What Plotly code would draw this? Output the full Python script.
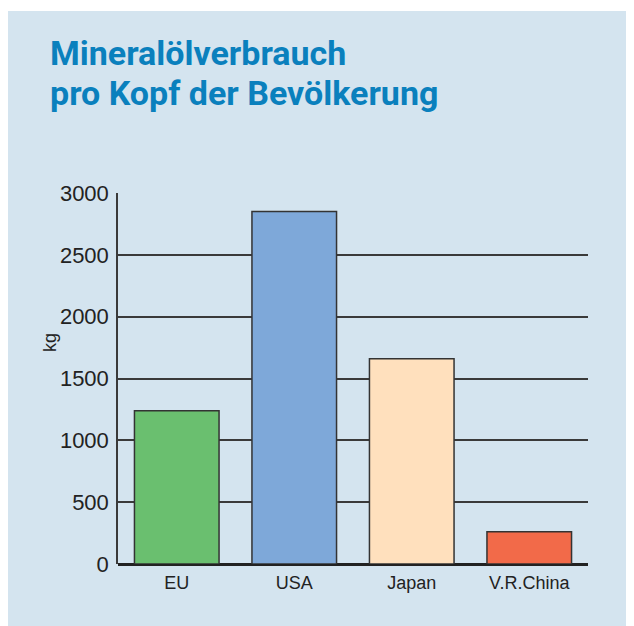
import plotly.graph_objects as go

categories = ["EU", "USA", "Japan", "V.R.China"]
values = [1240, 2850, 1660, 260]
bar_colors = ["#6abf6f", "#7ea8d9", "#ffe0bd", "#f26a49"]
y_ticks = [0, 500, 1000, 1500, 2000, 2500, 3000]
title_lines = ["Mineralölverbrauch", "pro Kopf der Bevölkerung"]
y_label = "kg"

W, H = 634, 626
OFF = 8  # page body margin
L, T = 110, 185
pw, ph = 470, 371
R, B = W - L - pw, H - T - ph

def px_x(x_page):
    return (x_page - OFF - L) / pw

def px_y(y_page):
    return (T + ph - (y_page - OFF)) / ph

fig = go.Figure()
fig.add_trace(go.Bar(
    x=categories, y=values,
    marker=dict(color=bar_colors, line=dict(color="#333333", width=1.5)),
    width=0.72,
))

bg = "#d4e4ef"
fig.add_shape(type="rect", xref="paper", yref="paper",
              x0=px_x(8), x1=px_x(W + 20), y0=px_y(H + 20), y1=px_y(11),
              fillcolor=bg, line=dict(width=0), layer="below")

title_color = "#0a80bd"
title_font = "Roboto, Liberation Sans, Arial, sans-serif"
for line, base in zip(title_lines, [65, 105]):
    fig.add_annotation(text="<b>" + line + "</b>", xref="paper", yref="paper",
                       x=px_x(48), y=px_y(base - 12), xanchor="left", yanchor="middle",
                       showarrow=False,
                       font=dict(family=title_font, size=34, color=title_color))

fig.add_annotation(text=y_label, xref="paper", yref="paper",
                   x=px_x(50), y=px_y(343), textangle=-90, showarrow=False,
                   xanchor="center", yanchor="middle",
                   font=dict(family="Liberation Sans, Arial, sans-serif", size=18, color="#222222"))

fig.update_layout(
    width=W, height=H,
    margin=dict(l=L, r=R, t=T, b=B, pad=0),
    paper_bgcolor="white", plot_bgcolor="rgba(0,0,0,0)",
    showlegend=False,
    xaxis=dict(showgrid=False, showline=False, ticks="",
               ticklabelstandoff=6,
               tickfont=dict(family="Liberation Sans, Arial, sans-serif", size=18, color="#222222"),
               range=[-0.5, 3.5]),
    yaxis=dict(range=[0, 3000], tickvals=y_ticks, showgrid=True,
               gridcolor="#3a3a3a", gridwidth=1.5,
               zeroline=True, zerolinecolor="#222222", zerolinewidth=3,
               showline=True, linecolor="#3a3a3a", linewidth=1.5,
               ticks="", ticklabelstandoff=3,
               tickfont=dict(family="Liberation Sans, Arial, sans-serif", size=22, color="#222222")),
)

fig.write_html("out.html")
